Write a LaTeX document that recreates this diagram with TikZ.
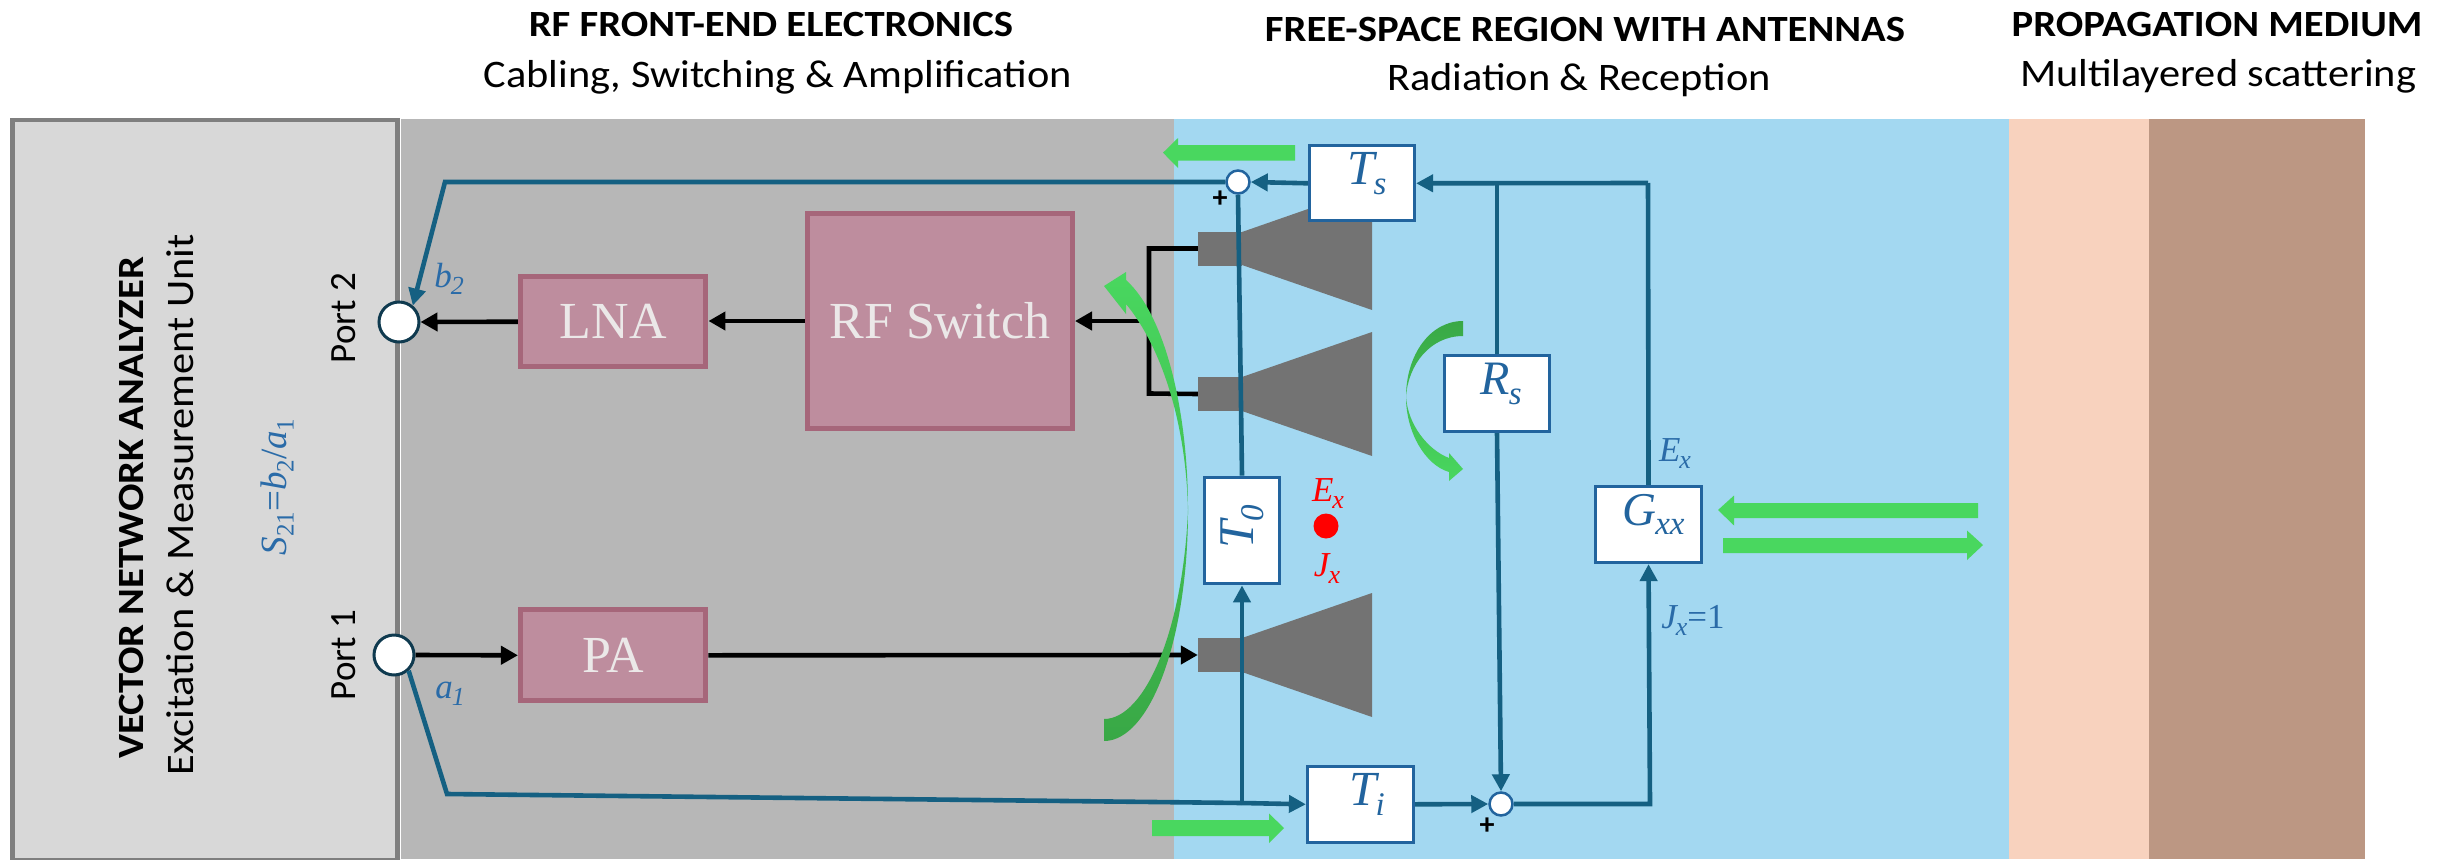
\documentclass[tikz,border=0pt]{standalone}
\usepackage{fontspec}
\usepackage{graphicx}
\setmainfont{Carlito}
\newfontfamily\srf{Liberation Serif}
\usetikzlibrary{arrows.meta}
\definecolor{zgray}{HTML}{B7B7B7}
\definecolor{zblue}{HTML}{A3D8F1}
\definecolor{zpeach}{HTML}{F8D2BE}
\definecolor{zbrown}{HTML}{BC9783}
\definecolor{vnafill}{HTML}{D8D8D8}
\definecolor{vnaline}{HTML}{7F7F7F}
\definecolor{grn}{HTML}{49D75F}
\definecolor{grnd}{HTML}{39A846}
\definecolor{pinkf}{HTML}{BE8D9E}
\definecolor{pinkl}{HTML}{A6667A}
\definecolor{pinkt}{HTML}{EBE8E8}
\definecolor{boxb}{HTML}{22649E}
\definecolor{wire}{HTML}{156082}
\definecolor{lbl}{HTML}{2A6BA8}
\definecolor{port}{HTML}{0F3A4F}
\definecolor{horn}{HTML}{737373}
% size, letter, subscript size, subscript
\newcommand{\zsub}[4]{{\srf\itshape\fontsize{#1}{#1}\selectfont #2\kern-1pt\raisebox{-0.2em}{\fontsize{#3}{#3}\selectfont #4}}}
\newcommand{\zsmash}[1]{\smash{#1}}
\newcommand{\hb}[1]{\scalebox{1.10}[1]{#1}}
\newcommand{\hr}[1]{\scalebox{1.086}[1]{#1}}
\tikzset{
  x=1pt,y=-1pt,
  blockbox/.style={draw=boxb,line width=3.2pt,fill=white,inner sep=0pt,text=boxb},
  ampbox/.style={draw=pinkl,line width=5pt,fill=pinkf,inner sep=0pt,text=pinkt,font=\srf\fontsize{52}{52}\selectfont},
  wireline/.style={draw=wire,line width=4.6pt,line join=miter},
  wirearrow/.style={wireline,-{Triangle[length=17pt,width=17pt]}},
  blackline/.style={draw=black,line width=4.6pt,line join=miter},
  blackarrow/.style={blackline,-{Triangle[length=17pt,width=18pt]}},
  sumdot/.style={circle,draw=boxb,line width=2.5pt,fill=white,minimum size=23pt,inner sep=0pt},
  portdot/.style={circle,draw=port,line width=3pt,fill=white,minimum size=40pt,inner sep=0pt},
  hornrect/.style={rectangle,fill=horn,inner sep=0pt,minimum width=44pt,minimum height=34pt},
  hdrb/.style={anchor=base,inner sep=0pt,font=\bfseries\fontsize{37}{37}\selectfont},
  hdrr/.style={anchor=base,inner sep=0pt,font=\fontsize{39}{39}\selectfont},
  sidetext/.style={anchor=base,inner sep=0pt,rotate=90},
  tag/.style={inner sep=0pt,text=lbl},
  redtag/.style={inner sep=0pt,text=red},
  plus/.style={inner sep=0pt,font=\bfseries\fontsize{30}{30}\selectfont},
}
\begin{document}
\begin{tikzpicture}
\useasboundingbox (0,0) rectangle (2448,859);
\fill[white] (0,0) rectangle (2448,859);
% regions
\fill[zgray] (401,119) rectangle (1174,859);
\fill[zblue] (1174,119) rectangle (2009,859);
\fill[zpeach] (2009,119) rectangle (2149,859);
\fill[zbrown] (2149,119) rectangle (2365,859);
\node[draw=vnaline,line width=4.5pt,fill=vnafill,minimum width=385pt,minimum height=740pt,inner sep=0pt] (vna) at (204.8,490) {};
% headers
\node[hdrb] (h1a) at (771,37) {\hb{RF FRONT-END ELECTRONICS}};
\node[hdrr] (h1b) at (778,87) {\hr{Cabling, Switching \& Amplification}};
\node[hdrb] (h2a) at (1585,42) {\hb{FREE-SPACE REGION WITH ANTENNAS}};
\node[hdrr] (h2b) at (1579,90) {\hr{Radiation \& Reception}};
\node[hdrb] (h3a) at (2217,37) {\hb{PROPAGATION MEDIUM}};
\node[hdrr] (h3b) at (2218,86) {\hr{Multilayered scattering}};
% VNA texts
\node[sidetext,font=\bfseries\fontsize{37}{37}\selectfont] (v1) at (143,508) {\hb{VECTOR NETWORK ANALYZER}};
\node[sidetext,font=\fontsize{39}{39}\selectfont] (v2) at (193,505) {\hr{Excitation \& Measurement Unit}};
\node[sidetext,font=\fontsize{37}{37}\selectfont] (pl2) at (355,318) {Port 2};
\node[sidetext,font=\fontsize{37}{37}\selectfont] (pl1) at (355,655) {Port 1};
\node[tag,rotate=90,font=\srf\fontsize{37}{37}\selectfont] (s21) at (277,487) {\textit{S}\raisebox{-0.2em}{\fontsize{25}{25}\selectfont 21}=\textit{b}\raisebox{-0.2em}{\fontsize{25}{25}\selectfont 2}/\textit{a}\raisebox{-0.2em}{\fontsize{25}{25}\selectfont 1}};
% horns
\fill[horn] (1242,232) -- (1372,186.7) -- (1372,310) -- (1242,265) -- cycle;
\fill[horn] (1242,377) -- (1372,332) -- (1372,456) -- (1242,411) -- cycle;
\fill[horn] (1242,638) -- (1372,593) -- (1372,717) -- (1242,672) -- cycle;
\node[hornrect] (hr1) at (1220,248.5) {};
\node[hornrect] (hr2) at (1220,394) {};
\node[hornrect] (hr3) at (1220,655) {};
% boxes
\node[ampbox,minimum width=185.5pt,minimum height=90.5pt] (lna) at (613.2,321.7) {\raisebox{-2.5pt}{LNA}};
\node[ampbox,minimum width=185.5pt,minimum height=91pt] (pa) at (613.2,655.3) {\raisebox{-2.5pt}{PA}};
\node[ampbox,minimum width=265pt,minimum height=215pt] (sw) at (940,321) {\raisebox{-1.5pt}{RF Switch}};
\node[blockbox,minimum width=105pt,minimum height=75pt] (ts) at (1362,183.3) {\hspace*{10pt}\raisebox{-2pt}{\zsmash{\zsub{49}{T}{33}{s}}}};
\node[blockbox,minimum width=106pt,minimum height=76pt] (ti) at (1360.5,804.3) {\hspace*{13pt}\raisebox{-3pt}{\zsmash{\zsub{49}{T}{33}{i}}}};
\node[blockbox,minimum width=75.3pt,minimum height=106.6pt] (t0) at (1242,530.5) {\raisebox{8pt}{\rotatebox{90}{\zsub{50}{T}{33}{0}}}};
\node[blockbox,minimum width=105pt,minimum height=76pt] (rs) at (1497,393.5) {\hspace*{8pt}\raisebox{-2pt}{\zsmash{\zsub{48}{R}{33}{s}}}};
\node[blockbox,minimum width=106pt,minimum height=76pt] (gxx) at (1648.5,524.5) {\hspace*{10pt}\raisebox{-2pt}{\zsmash{\zsub{47}{G}{33}{xx}}}};
% dots
\node[sumdot] (sumt) at (1238,182) {};
\node[sumdot] (sumb) at (1501,804) {};
\node[portdot] (p2) at (399,322) {};
\node[portdot] (p1) at (394,655) {};
\node[circle,fill=red,minimum size=25pt,inner sep=0pt] (src) at (1326,526) {};
% named bends
\coordinate (c1) at (445,182);
\coordinate (c2) at (447,794);
\coordinate (j0) at (1242,803);
\coordinate (j1) at (1497,183);
\coordinate (c3) at (1648,183);
\coordinate (c4) at (1650,804);
\coordinate (bt) at (1149,248.5);
\coordinate (bb) at (1149,393.5);
\coordinate (bs) at (1149,321);
% blue wires
\draw[wirearrow] (ts.west) -- (sumt.east);
\draw[wirearrow] (sumt.west) -- (c1) -- (p2.50);
\draw[wireline] (p1.-47) -- (c2) -- (j0);
\draw[wirearrow] (j0) -- (ti.west);
\draw[wirearrow] (j0) -- (t0.south);
\draw[wireline] (t0.north) -- (sumt.south);
\draw[wirearrow] (ti.east) -- (sumb.west);
\draw[wirearrow] (rs.south) -- (sumb.north);
\draw[wireline] (rs.north) -- (j1);
\draw[wirearrow] (c3) -- (ts.east);
\draw[wireline] (gxx.north) -- (c3);
\draw[wirearrow] (sumb.east) -- (c4) -- (gxx.south);
% black wires
\draw[blackarrow] (lna.west) -- (p2.east);
\draw[blackarrow] (p1.east) -- (pa.west);
\draw[blackarrow] (sw.west |- 0,321) -- (lna.east |- 0,321);
\draw[blackarrow] (pa.east) -- (hr3.west);
\draw[blackline] (hr1.west) -- (bt) -- (bb) -- (hr2.west);
\draw[blackarrow] (bs) -- (sw.east |- bs);
% labels
\node[tag] (b2) at (449,279) {\zsub{35}{b}{26}{2}};
\node[tag] (a1) at (450,694) {\zsub{35}{a}{26}{1}};
\node[tag] (ex) at (1675,454) {\zsub{35}{E}{26}{x}};
\node[tag] (jx) at (1693,620) {\zsub{35}{J}{26}{x}{\srf\fontsize{35}{35}\selectfont =1}};
\node[redtag] (rex) at (1328,494) {\zsub{35}{E}{26}{x}};
\node[redtag] (rjx) at (1327,569) {\zsub{35}{J}{26}{x}};
\node[plus] (pt) at (1220,199) {+};
\node[plus] (pb) at (1487,826) {+};
% green block arrows
\fill[grn] (1163,152.7) -- (1178,138) -- (1178,145) -- (1295,145) -- (1295,160.5) -- (1178,160.5) -- (1178,168) -- cycle;
\fill[grn] (1284,828) -- (1269,813.5) -- (1269,820) -- (1152,820) -- (1152,836) -- (1269,836) -- (1269,843) -- cycle;
\fill[grn] (1718,510) -- (1734,495.5) -- (1734,503) -- (1978,503) -- (1978,518) -- (1734,518) -- (1734,525.5) -- cycle;
\fill[grn] (1983,545) -- (1967,530.5) -- (1967,538) -- (1723,538) -- (1723,553) -- (1967,553) -- (1967,560) -- cycle;
% green curved arrows
\shade[top color=grn,bottom color=grnd] (1104,286) -- (1126,272) -- (1126,280)
  .. controls (1165,315) and (1188,410) .. (1188,510)
  .. controls (1188,640) and (1150,741) .. (1104,741)
  -- (1104,719)
  .. controls (1145,719) and (1183,630) .. (1188,510)
  .. controls (1186,420) and (1160,345) .. (1126,304)
  -- (1126,314) -- cycle;
\shade[top color=grnd,bottom color=grn] (1463,321)
  .. controls (1430,321) and (1406,355) .. (1406,397)
  .. controls (1406,432) and (1425,465) .. (1449,472)
  -- (1449,481) -- (1463,469) -- (1449,453) -- (1449,458)
  .. controls (1428,450) and (1408,425) .. (1406,397)
  .. controls (1408,365) and (1430,336) .. (1463,336) -- cycle;
\end{tikzpicture}
\end{document}
